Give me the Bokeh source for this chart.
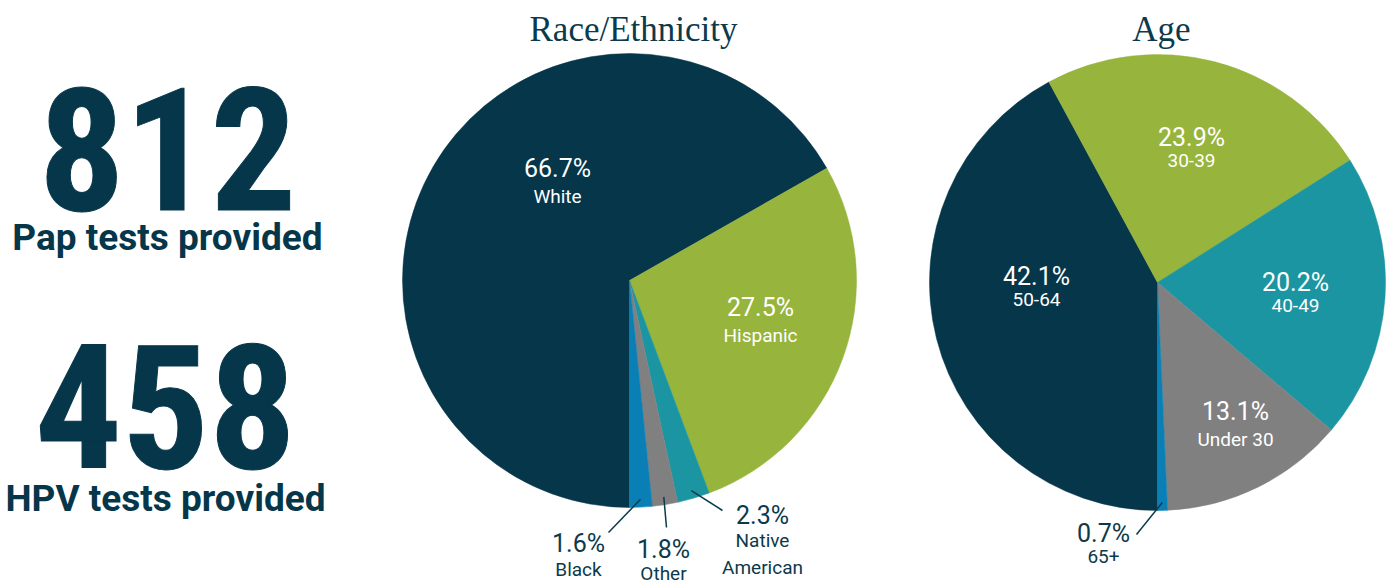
import numpy as np
from bokeh.plotting import figure
from bokeh.models import Range1d
from bokeh.core.properties import value
from bokeh.embed import file_html
from bokeh.resources import INLINE

# ---------------- data ----------------
stat_values = [812, 458]
stat_labels = ["Pap tests provided", "HPV tests provided"]

race_title = "Race/Ethnicity"
race_labels = ["White", "Hispanic", "Native\nAmerican", "Other", "Black"]
race_values = [66.7, 27.5, 2.3, 1.8, 1.6]

age_title = "Age"
age_labels = ["50-64", "30-39", "40-49", "Under 30", "65+"]
age_values = [42.1, 23.9, 20.2, 13.1, 0.7]

# ---------------- styles / layout ----------------
NAVY = "#06364a"
TEXT = "#0b3a4c"
race_colors = ["#06364a", "#97b43c", "#1a95a1", "#808080", "#0a7fb5"]
age_colors = ["#06364a", "#97b43c", "#1a95a1", "#808080", "#0a7fb5"]

W, H = 1390, 584
def SY(v):  # screen y -> data y
    return H - v

p = figure(width=W, height=H, x_range=Range1d(0, W), y_range=Range1d(0, H),
           output_backend="svg", toolbar_location=None, min_border=0)
p.axis.visible = False
p.grid.visible = False
p.outline_line_color = None
p.background_fill_color = "white"

BIG_FONT = value("Roboto Condensed, Roboto")

# left stats: (center x, number baseline, label baseline, number size)
stat_layout = [(167, 148, 237, 170), (165, 406, 498, 172)]
for v, lab, (cx, by, ly, fs) in zip(stat_values, stat_labels, stat_layout):
    kw = dict(x=[cx], y=[SY(by)], text=[str(v)], text_align="center", text_baseline="alphabetic",
              text_font=BIG_FONT, text_font_style="bold",
              text_font_size=f"{fs}px", text_color=NAVY)
    try:
        p.text(text_outline_color=NAVY, **kw)
    except Exception:
        p.text(**kw)
    p.text(x=[cx], y=[SY(ly)], text=[lab], text_align="center", text_baseline="alphabetic",
           text_font=value("Roboto"), text_font_style="bold",
           text_font_size="37px", text_color=NAVY)

def pie(cx, cy, r, title, title_x, labels, vals, colors, lab_pos, leaders):
    vals = np.array(vals, dtype=float)
    frac = vals / vals.sum()
    cum = np.concatenate([[0], np.cumsum(frac)])
    # start at bottom, go clockwise
    a_before = np.deg2rad(-90 - 360 * cum[:-1])
    a_after = np.deg2rad(-90 - 360 * cum[1:])
    p.wedge(x=cx, y=SY(cy), radius=r, start_angle=a_after, end_angle=a_before,
            direction="anticlock", fill_color=colors, line_color=colors, line_width=0.5)
    p.text(x=[title_x], y=[SY(29)], text=[title], text_align="center", text_baseline="alphabetic",
           text_font=value("Liberation Serif"), text_font_size="35px", text_color=TEXT)
    mids = (a_before + a_after) / 2
    for i, (lab, v) in enumerate(zip(labels, vals)):
        lx, py, ny, inside = lab_pos[i]
        col = "white" if inside else TEXT
        p.text(x=[lx], y=[SY(py)], text=[f"{v:.1f}%"], text_align="center", text_baseline="middle",
               text_font=value("Roboto"), text_font_size="25px", text_color=col)
        p.text(x=[lx], y=[SY(ny)], text=[lab], text_align="center", text_baseline="top",
               text_font=value("Roboto"), text_font_size="19px", text_color=col,
               text_line_height=1.2)
        if i in leaders:
            ex, ey = leaders[i]
            sx = cx + 0.965 * r * np.cos(mids[i])
            sy = cy - 0.965 * r * np.sin(mids[i])
            p.segment(x0=[sx], y0=[SY(sy)], x1=[ex], y1=[SY(ey)], line_color=TEXT, line_width=1.5)

race_pos = [(557, 168, 184, True), (760, 307, 323, True), (762, 515, 528, False),
            (663, 549, 561, False), (578, 543, 557, False)]
race_leaders = {2: (722, 510), 3: (666, 527), 4: (608, 532)}
pie(629, 280, 227, race_title, 633, race_labels, race_values, race_colors, race_pos, race_leaders)

age_pos = [(1036, 276, 292, True), (1191, 137, 153, True), (1295, 282, 298, True),
           (1235, 411, 427, True), (1103, 533, 549, False)]
age_leaders = {4: (1136, 534)}
pie(1157, 282, 228, age_title, 1161, age_labels, age_values, age_colors, age_pos, age_leaders)

open("out.html", "w").write(file_html(p, INLINE))
